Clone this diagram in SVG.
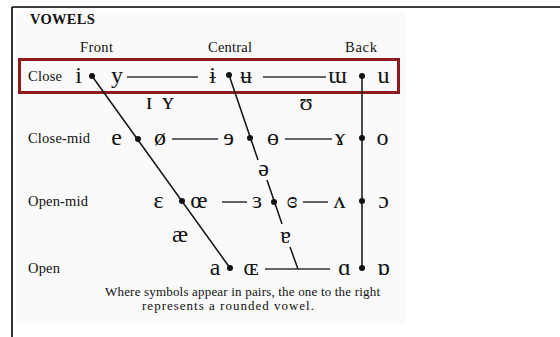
<svg xmlns="http://www.w3.org/2000/svg" width="560" height="337" viewBox="0 0 560 337">
<style>
.lab{font-family:"Liberation Serif","DejaVu Serif",serif;font-size:14.5px;fill:#111}
.hd{font-family:"Liberation Serif","DejaVu Serif",serif;font-size:14.5px;fill:#111}
.sym{font-family:"Liberation Serif","DejaVu Serif",serif;font-size:24px;fill:#111;text-anchor:middle}
.note{font-family:"Liberation Serif","DejaVu Serif",serif;font-size:13px;fill:#111}
.h{stroke:#333;stroke-width:1.3;fill:none}
.d{stroke:#111;stroke-width:1.5;fill:none}
.dot{fill:#111}
</style>
<rect x="0" y="0" width="560" height="337" fill="#fff"/>
<rect x="16" y="12" width="389" height="311" fill="#fafafa"/>
<path d="M12 7H560M12 7V337" stroke="#000" stroke-width="1.6" fill="none"/>
<text x="30" y="24" class="hd" font-weight="bold" font-size="12" letter-spacing="0.3">VOWELS</text>
<text x="80" y="52" class="hd" textLength="33">Front</text>
<text x="208" y="52" class="hd" textLength="44">Central</text>
<text x="345" y="52" class="hd" textLength="32">Back</text>
<rect id="closebox" x="19.5" y="59.5" width="379" height="33" fill="none" stroke="#8e1b1b" stroke-width="3"/>
<g id="connectors">
<path class="h" d="M127 77H198M263 77H326M172 139H218M285 139H332M222 202H247M303 202H328M265 269H330"/>
<path class="d" d="M92 76L230 268M229 75L258 160M267 180L282 224M290 247L298 269M362 76V268"/>
</g>
<g id="labels">
<text x="28" y="81" class="lab" textLength="34">Close</text>
<text x="28" y="143" class="lab" textLength="62">Close-mid</text>
<text x="28" y="206" class="lab" textLength="60">Open-mid</text>
<text x="28" y="273" class="lab" textLength="32">Open</text>
</g>
<g id="close">
<text x="78.5" y="83" class="sym">i</text><circle class="dot" cx="92" cy="76" r="3"/><text x="117" y="83" class="sym">y</text>
<text x="212.5" y="83" class="sym">ɨ</text><circle class="dot" cx="229" cy="75" r="3"/><text x="246" y="83" class="sym">ʉ</text>
<text x="337.5" y="83" class="sym">ɯ</text><circle class="dot" cx="362" cy="76" r="3"/><text x="383.5" y="83" class="sym">u</text>
</g>
<g id="nearclose">
<text x="149" y="109" class="sym">ɪ</text><text x="168" y="109" class="sym">ʏ</text>
<text x="306" y="110" class="sym">ʊ</text>
</g>
<g id="closemid">
<text x="116.5" y="145" class="sym">e</text><circle class="dot" cx="138" cy="139" r="3"/><text x="160" y="145" class="sym">ø</text>
<text x="228.5" y="145" class="sym">ɘ</text><circle class="dot" cx="250" cy="138" r="3"/><text x="273" y="145" class="sym">ɵ</text>
<text x="340" y="145" class="sym">ɤ</text><circle class="dot" cx="362" cy="138" r="3"/><text x="382.5" y="145" class="sym">o</text>
</g>
<g id="mid"><text x="263.5" y="176" class="sym">ə</text></g>
<g id="openmid">
<text x="158.5" y="208" class="sym">ɛ</text><circle class="dot" cx="182" cy="201" r="3"/><text x="199" y="208" class="sym">œ</text>
<text x="257" y="208" class="sym">ɜ</text><circle class="dot" cx="274" cy="202" r="3"/><text x="292" y="208" class="sym">ɞ</text>
<text x="339.5" y="208" class="sym">ʌ</text><circle class="dot" cx="362" cy="201" r="3"/><text x="383.5" y="208" class="sym">ɔ</text>
</g>
<g id="nearopen">
<text x="180" y="242" class="sym">æ</text>
<text x="285.5" y="243" class="sym">ɐ</text>
</g>
<g id="open">
<text x="215" y="275" class="sym">a</text><circle class="dot" cx="230" cy="268" r="3"/><text x="251" y="275" class="sym">ɶ</text>
<text x="344.5" y="275" class="sym">ɑ</text><circle class="dot" cx="362" cy="268" r="3"/><text x="383.5" y="275" class="sym">ɒ</text>
</g>
<g id="note">
<text x="105" y="296" class="note" textLength="275">Where symbols appear in pairs, the one to the right</text>
<text x="142" y="310" class="note" textLength="172">represents a rounded vowel.</text>
</g>
</svg>
